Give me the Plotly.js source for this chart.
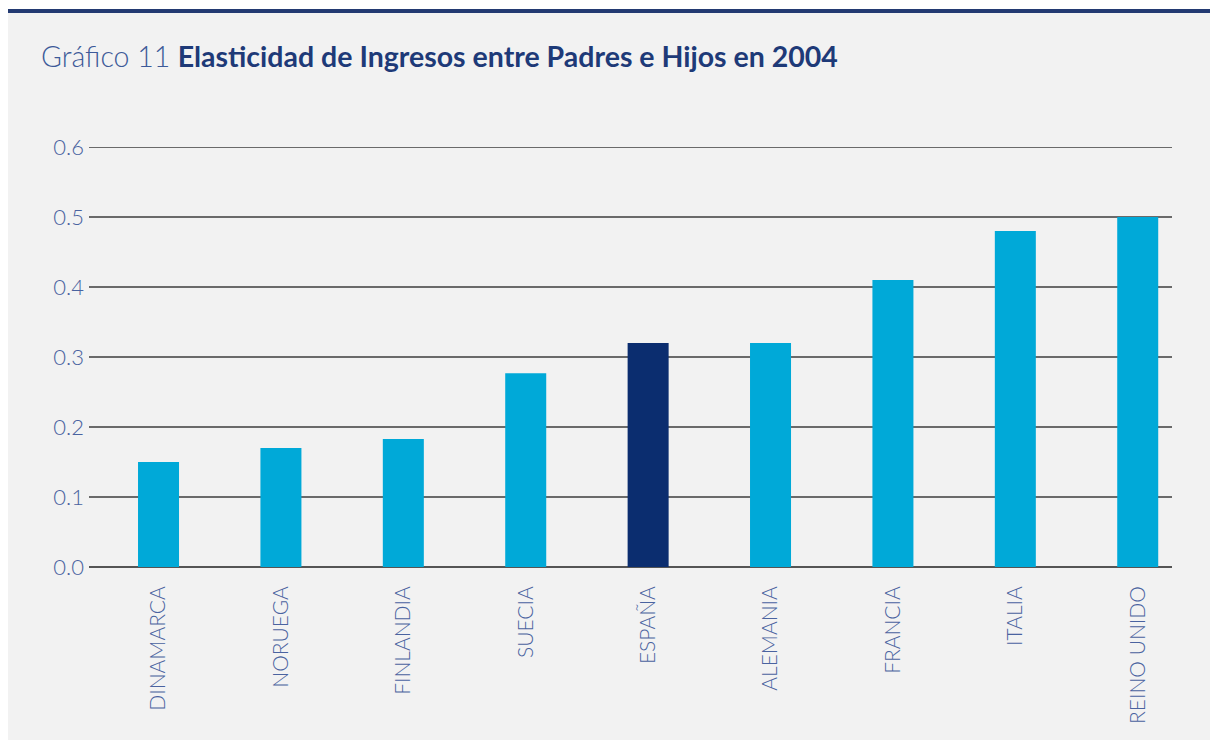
<!DOCTYPE html>
<html>
<head>
<meta charset="utf-8">
<script src="https://cdn.plot.ly/plotly-3.0.1.min.js"></script>
<style>
  html, body { margin:0; padding:0; background:#ffffff; width:1210px; height:740px; overflow:hidden; }
  #bg { position:absolute; left:8px; top:9px; width:1202px; height:731px; background:#f2f2f2; border-top:4px solid #233a72; box-sizing:border-box; }
  #chart { position:absolute; left:0; top:0; width:1210px; height:740px; }
</style>
</head>
<body>
<div id="bg"></div>
<div id="chart"></div>
<script>
const categories = ["DINAMARCA", "NORUEGA", "FINLANDIA", "SUECIA", "ESPAÑA", "ALEMANIA", "FRANCIA", "ITALIA", "REINO UNIDO"];
const values = [0.15, 0.17, 0.183, 0.277, 0.32, 0.32, 0.41, 0.48, 0.50];
const highlight = "ESPAÑA";
const yTickVals = [0, 0.1, 0.2, 0.3, 0.4, 0.5, 0.6];
const yTickText = ["0.0", "0.1", "0.2", "0.3", "0.4", "0.5", "0.6"];

const barColors = categories.map(c => c === highlight ? "#0b2d6f" : "#00a9d8");

const trace = {
  type: "bar",
  x: categories,
  y: values,
  marker: { color: barColors },
  width: 0.335,
  hoverinfo: "x+y"
};

const layout = {
  width: 1210,
  height: 740,
  paper_bgcolor: "rgba(0,0,0,0)",
  plot_bgcolor: "rgba(0,0,0,0)",
  margin: { l: 89, r: 38, t: 145, b: 173 },
  showlegend: false,
  font: { family: "Lato, 'Open Sans', sans-serif", color: "#4a63a0" },
  xaxis: {
    type: "category",
    range: [-0.568, 8.28],
    tickangle: -90,
    tickfont: { size: 21, color: "#4a63a0", family: "Lato, sans-serif", weight: 300 },
    showgrid: false,
    showline: false,
    zeroline: false,
    ticks: "",
    ticklabelstandoff: 14,
    fixedrange: true
  },
  yaxis: {
    range: [0, 0.603],
    tickvals: yTickVals,
    ticktext: yTickText,
    tickfont: { size: 22, color: "#4a63a0", family: "Lato, sans-serif", weight: 300 },
    showgrid: true,
    gridcolor: "#6a6a6a",
    gridwidth: 1.2,
    zeroline: true,
    zerolinecolor: "#555555",
    zerolinewidth: 2.5,
    ticks: "",
    ticklabelstandoff: 4,
    fixedrange: true
  },
  annotations: [{
    xref: "paper", yref: "paper",
    x: -0.0434, y: 1.0,
    xanchor: "left", yanchor: "middle",
    xshift: -3,
    yshift: 89,
    showarrow: false,
    text: "<span style='font-weight:300;color:#3d5a99'>Gráfico 11</span> <b style='color:#1e3a78'>Elasticidad de Ingresos entre Padres e Hijos en 2004</b>",
    font: { size: 28.5, family: "Lato, sans-serif", color: "#1e3a78" }
  }]
};

Plotly.newPlot("chart", [trace], layout, { displayModeBar: false, staticPlot: true });
</script>
</body>
</html>
